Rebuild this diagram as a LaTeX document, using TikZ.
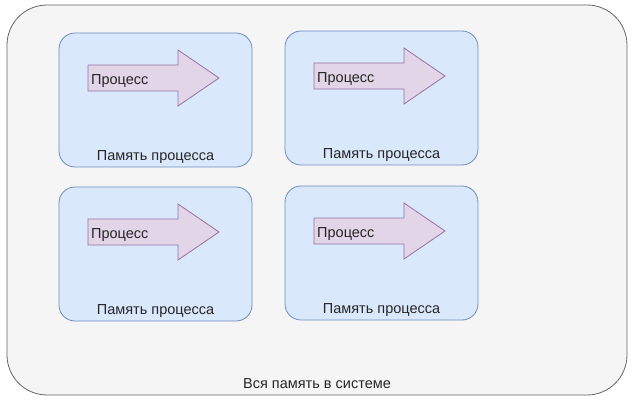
\documentclass[tikz,border=0pt]{standalone}
\usepackage{fontspec}
\setmainfont{Liberation Sans}
\definecolor{outerfill}{HTML}{F5F5F5}
\definecolor{outerdraw}{HTML}{666666}
\definecolor{blockfill}{HTML}{DAE8FC}
\definecolor{blockdraw}{HTML}{6C8EBF}
\definecolor{arrowfill}{HTML}{E1D5E7}
\definecolor{arrowdraw}{HTML}{9673A6}
\tikzset{
  outerbox/.style={draw=outerdraw, fill=outerfill, rounded corners=40pt, line width=0.8pt},
  blockbox/.style={draw=blockdraw, fill=blockfill, rounded corners=16pt, line width=0.8pt},
  procarrow/.style={draw=arrowdraw, fill=arrowfill, line width=0.8pt},
  lbl/.style={font=\fontsize{14.5pt}{17pt}\selectfont, text=black!85, inner sep=0pt},
}
\newcommand{\memblock}[3]{% name, x, y (top-left)
  \draw[blockbox] (#2,#3) rectangle ++(193,134);
  \coordinate (#1) at (#2,#3);
  \draw[procarrow] ($(#1)+(29,32)$) -- ++(90,0) -- ++(0,-15) -- ++(41,28) -- ++(-41,28) -- ++(0,-15) -- ++(-90,0) -- cycle;
  \node[lbl, anchor=west] (#1p) at ($(#1)+(32,48)$) {Процесс};
  \node[lbl] (#1m) at ($(#1)+(96.5,124)$) {Память процесса};
}
\usetikzlibrary{calc}
\begin{document}
\begin{tikzpicture}[x=1pt, y=-1pt]
\useasboundingbox (0,0) rectangle (633,404);
\fill[white] (0,0) rectangle (633,404);
\draw[outerbox] (7,5) rectangle (627,395);
\node[lbl] (all) at (317,384) {Вся память в системе};
\memblock{a}{59}{33}
\memblock{b}{285}{31}
\memblock{c}{59}{187}
\memblock{d}{285}{186}
\end{tikzpicture}
\end{document}
